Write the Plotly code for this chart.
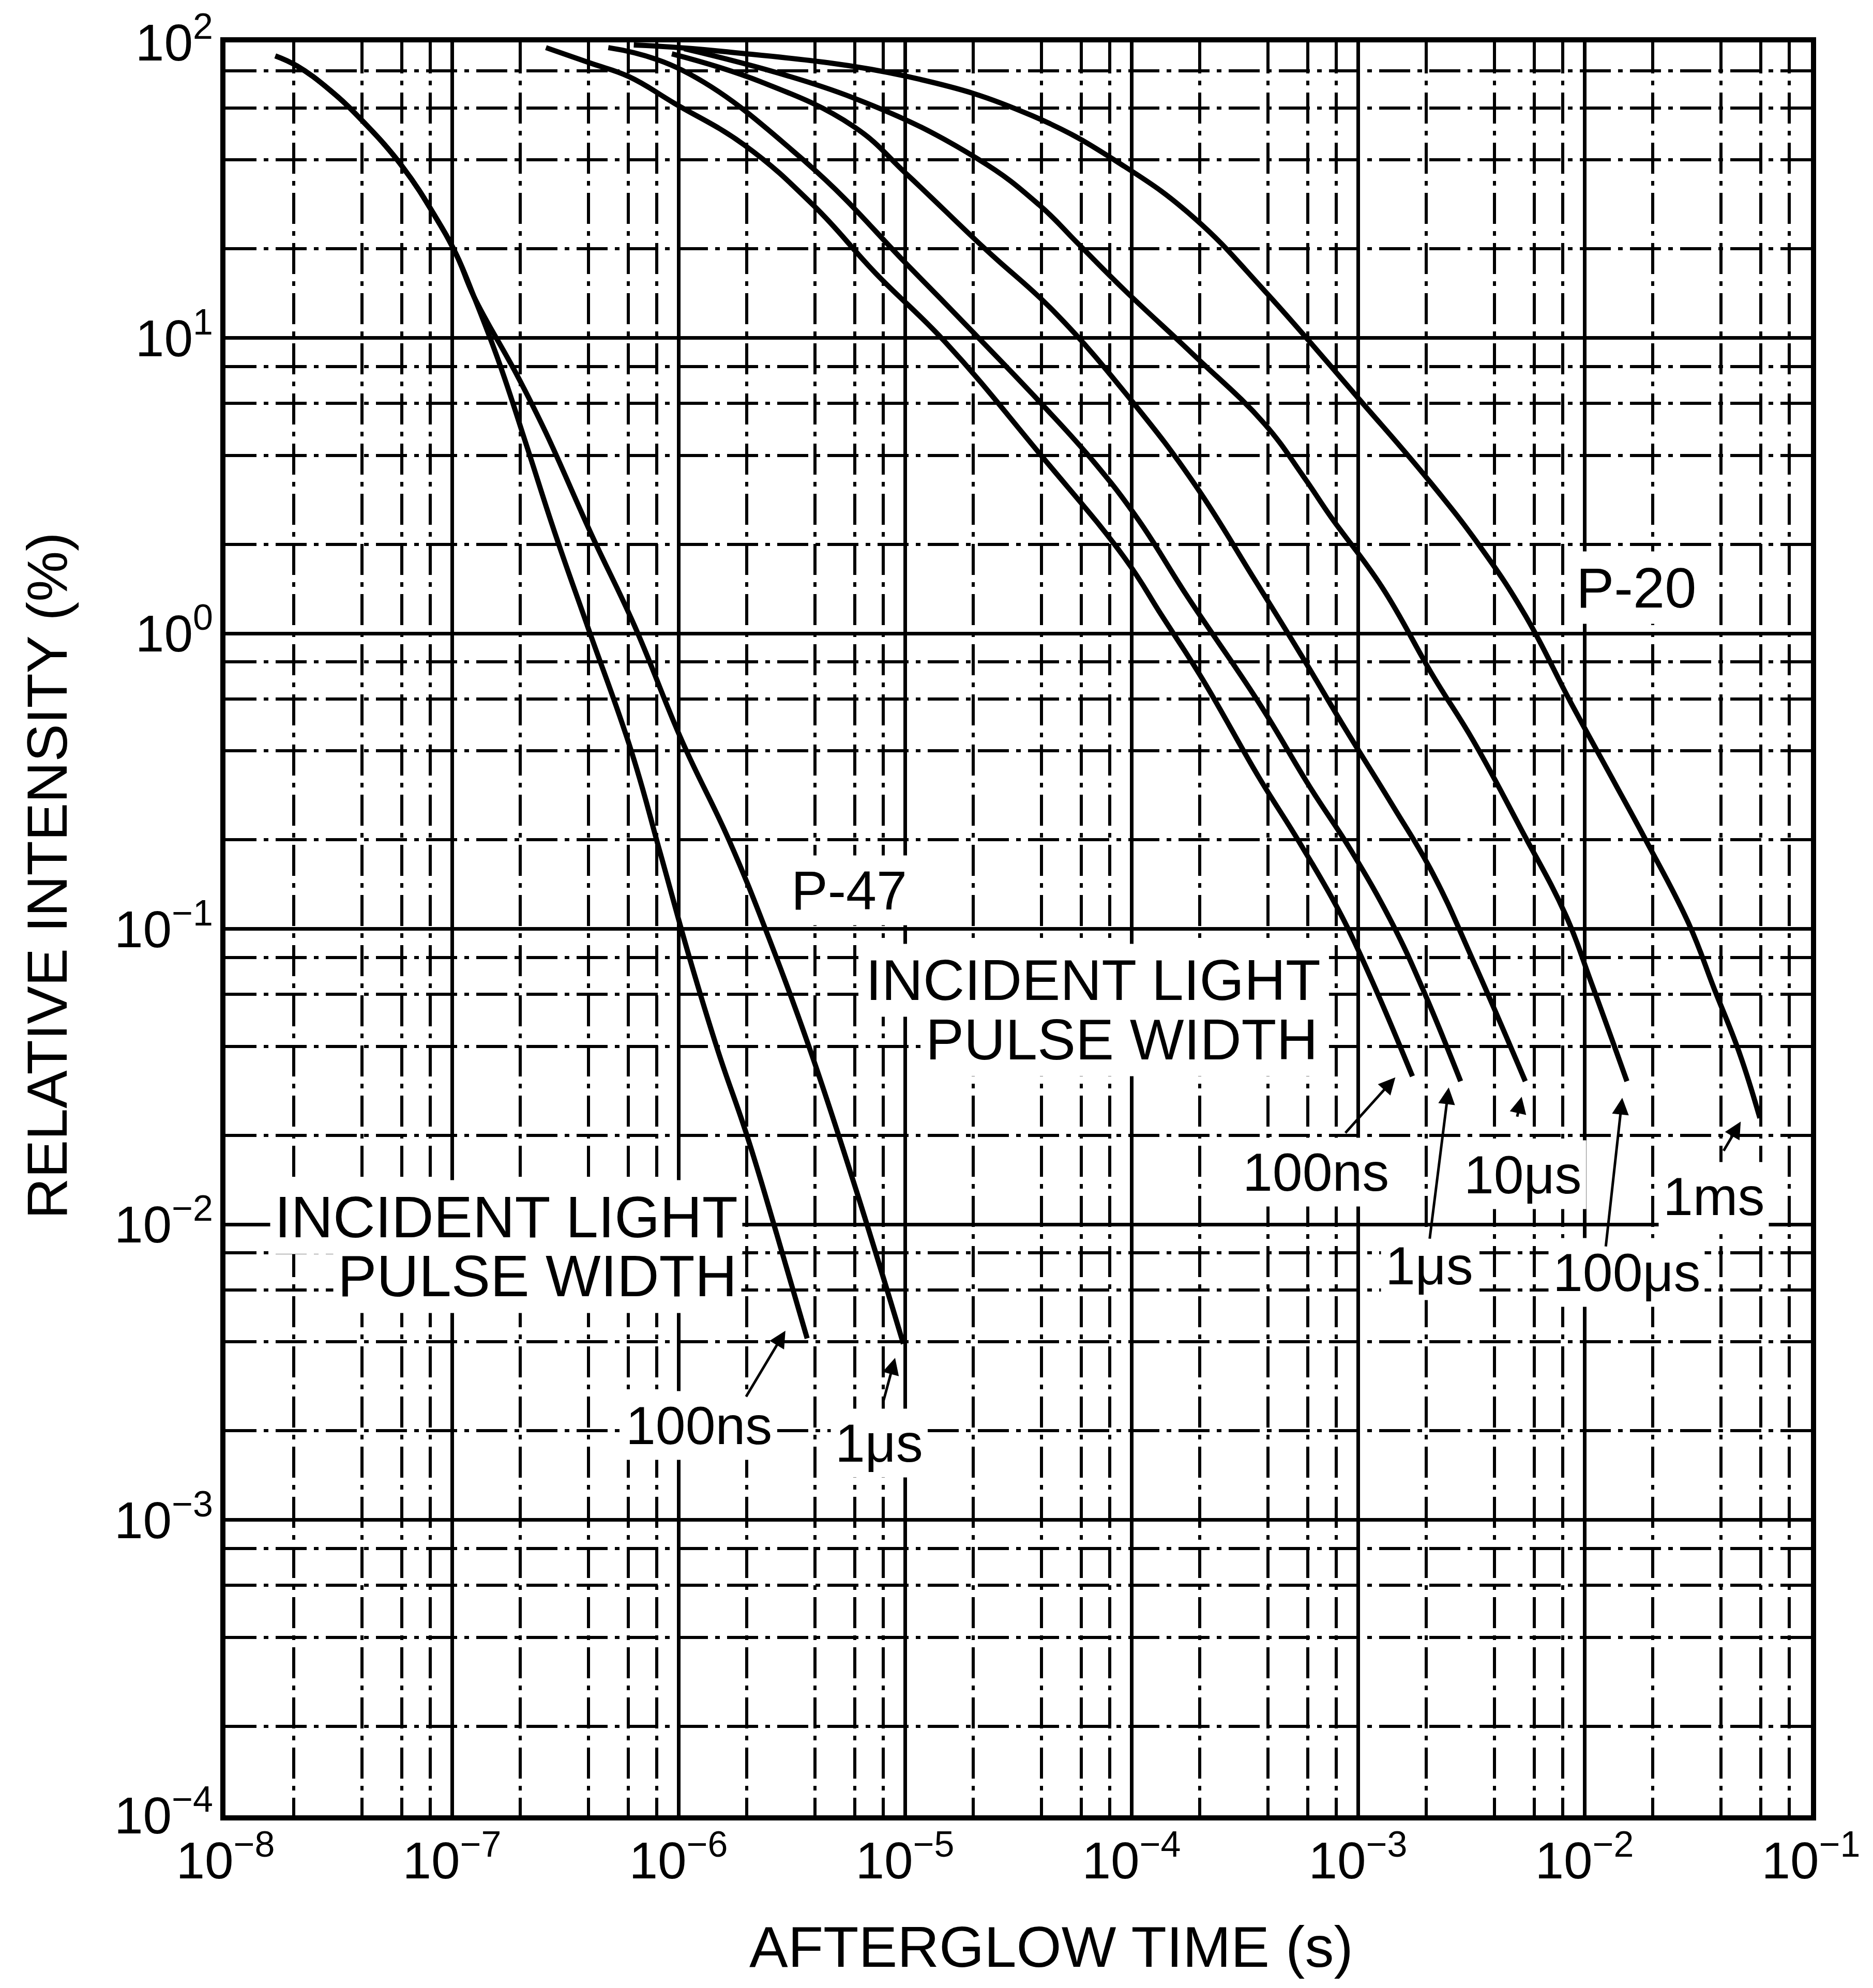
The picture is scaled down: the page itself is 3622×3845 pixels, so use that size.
import math
import plotly.graph_objects as go

# ---------------- data ----------------
# P-47: shared early part of the decay
p47_common_t = [1.66e-8, 2.07e-8, 2.89e-8, 4.05e-8, 6.04e-8, 8.5e-8, 1.05e-7, 1.25e-7]
p47_common_i = [90, 83.2, 69.0, 54.0, 38.0, 25.5, 19.0, 13.8]
# P-47, 100 ns pulse
p47_100ns_t = [1.62e-7, 2.14e-7, 2.84e-7, 3.98e-7, 6.19e-7, 8.32e-7, 1.12e-6, 1.50e-6,
               2.01e-6, 2.72e-6, 3.70e-6]
p47_100ns_i = [8.2, 4.3, 2.2, 1.05, 0.40, 0.18, 0.0796, 0.0383, 0.0199, 0.00923, 0.00411]
# P-47, 1 us pulse
p47_1us_t = [1.95e-7, 2.59e-7, 4.13e-7, 6.4e-7, 1.04e-6, 1.67e-6, 2.51e-6, 3.78e-6,
             6.10e-6, 9.84e-6]
p47_1us_i = [7.41, 4.80, 2.16, 1.06, 0.43, 0.200, 0.0929, 0.0397, 0.0130, 0.00394]

# P-20 curves
p20_100ns_t = [2.6e-7, 4.1e-7, 6.04e-7, 9.6e-7, 1.95e-6, 3.96e-6, 7.45e-6, 1.51e-5, 3.93e-5,
               9.33e-5, 1.36e-4, 2.07e-4, 3.66e-4, 5.52e-4, 8.45e-4, 1.15e-3, 1.74e-3]
p20_100ns_i = [96, 85, 76.6, 62.2, 45.0, 28.0, 16.5, 9.66, 4.06, 1.80, 1.15, 0.695, 0.325,
               0.196, 0.111, 0.0671, 0.0317]

p20_1us_t = [4.9e-7, 1.04e-6, 3.67e-6, 1.03e-5, 1.94e-5, 3.93e-5, 6.85e-5, 1.07e-4, 1.78e-4,
             3.66e-4, 6.12e-4, 9.37e-4, 1.42e-3, 1.93e-3, 2.84e-3]
p20_1us_i = [96, 80.5, 39.2, 17.6, 10.7, 6.08, 3.79, 2.43, 1.32, 0.581, 0.303, 0.183, 0.104,
             0.0627, 0.0305]

p20_10us_t = [9.35e-7, 2.31e-6, 5.92e-6, 1.03e-5, 2.26e-5, 4.59e-5, 1.01e-4, 1.90e-4, 3.48e-4,
              5.52e-4, 8.90e-4, 1.42e-3, 2.14e-3, 3.23e-3, 5.48e-3]
p20_10us_i = [91.5, 73.6, 52.0, 35.5, 20.0, 12.2, 6.08, 3.20, 1.53, 0.863, 0.468, 0.262, 0.154,
              0.0778, 0.0305]

p20_100us_t = [1.06e-6, 5.92e-6, 2.09e-5, 3.93e-5, 5.79e-5, 9.33e-5, 1.90e-4, 3.85e-4, 5.74e-4,
               7.62e-4, 1.28e-3, 2.14e-3, 3.23e-3, 5.21e-3, 8.28e-3, 1.07e-2, 1.54e-2]
p20_100us_i = [95.2, 64.9, 40.4, 28.1, 20.9, 14.5, 8.7, 5.14, 3.4, 2.47, 1.43, 0.72, 0.433,
               0.22, 0.111, 0.066, 0.0305]

p20_1ms_t = [6.35e-7, 1.55e-6, 1.03e-5, 3.64e-5, 9.33e-5, 1.90e-4, 3.85e-4, 1.00e-3, 2.03e-3,
             3.49e-3, 5.48e-3, 8.73e-3, 1.32e-2, 1.89e-2, 2.89e-2, 3.74e-2, 4.84e-2, 5.95e-2]
p20_1ms_i = [98.0, 93.3, 76.6, 56.5, 38.0, 25.4, 14.5, 6.27, 3.33, 1.95, 1.15, 0.581, 0.325,
             0.196, 0.104, 0.0627, 0.0379, 0.0229]

# axis ticks
x_exponents = [-8, -7, -6, -5, -4, -3, -2, -1]
y_exponents = [-4, -3, -2, -1, 0, 1, 2]
grid_mantissas = [2, 4, 6, 8]

FONT = "Liberation Sans, Arial, sans-serif"
BLACK = "#000000"

fig = go.Figure()

curves = [
    (p47_common_t + p47_100ns_t, p47_common_i + p47_100ns_i),
    (p47_common_t + p47_1us_t, p47_common_i + p47_1us_i),
    (p20_100ns_t, p20_100ns_i),
    (p20_1us_t, p20_1us_i),
    (p20_10us_t, p20_10us_i),
    (p20_100us_t, p20_100us_i),
    (p20_1ms_t, p20_1ms_i),
]
for t, i in curves:
    fig.add_trace(go.Scatter(x=t, y=i, mode="lines",
                             line=dict(color=BLACK, width=10, shape="spline", smoothing=1.2),
                             hoverinfo="skip"))

def sup(e):
    s = str(e).replace("-", "\u2212")
    return f"10<sup>{s}</sup>"

x_major = [10.0 ** e for e in x_exponents]
y_major = [10.0 ** e for e in y_exponents]
x_minor = [m * 10.0 ** e for e in x_exponents[:-1] for m in grid_mantissas]
y_minor = [m * 10.0 ** e for e in y_exponents[:-1] for m in grid_mantissas]

axis_common = dict(
    type="log", showline=True, mirror=True, linewidth=10, linecolor=BLACK,
    showgrid=True, gridcolor=BLACK, gridwidth=7, ticks="", zeroline=False,
    tickfont=dict(family=FONT, size=100, color=BLACK),
)
minor_style = dict(showgrid=True, gridcolor=BLACK, gridwidth=6,
                   griddash="60px,14px,9px,14px", ticks="")
fig.update_xaxes(**axis_common, range=[-8, -1], tickmode="array", tickvals=x_major,
                 ticktext=[sup(e) for e in x_exponents], ticklabelstandoff=-8,
                 minor=dict(tickmode="array", tickvals=x_minor, **minor_style))
fig.update_yaxes(**axis_common, range=[-4, 2], tickmode="array", tickvals=y_major,
                 ticktext=[sup(e) for e in y_exponents], ticklabelstandoff=-6,
                 minor=dict(tickmode="array", tickvals=y_minor, **minor_style))

annotations = []

def label(text, lx, ly, size=104, xanchor="center"):
    annotations.append(dict(x=lx, y=ly, xref="x", yref="y", text=text, showarrow=False,
                            xanchor=xanchor, yanchor="middle", bgcolor="white", borderpad=8,
                            font=dict(family=FONT, size=size, color=BLACK)))

label("P-47", -5.247, -0.870, size=106)
label("P-20", -1.772, 0.155, size=110)
label("INCIDENT LIGHT", -5.717, -1.976, size=113, xanchor="right")
label("PULSE WIDTH", -5.721, -2.175, size=113, xanchor="right")
label("INCIDENT LIGHT", -3.144, -1.174, size=111, xanchor="right")
label("PULSE WIDTH", -3.155, -1.376, size=111, xanchor="right")
label("100ns", -5.909, -2.681)
label("1\u03bcs", -5.114, -2.741)
label("100ns", -3.185, -1.824)
label("10\u03bcs", -2.272, -1.832)
label("1ms", -1.429, -1.906)
label("1\u03bcs", -2.685, -2.140)
label("100\u03bcs", -1.813, -2.162)

# pointer arrows toward the end of each curve (offsets in pixels)
pointers = [
    (curves[0], -42, 15, -77, 129),
    (curves[1], -16, -27, -24, 89),
    (curves[2], -33, -2, -98, 109),
    (curves[3], -23, -12, -37, 294),
    (curves[4], -7, -30, -9, 40),
    (curves[5], -9, -32, -32, 289),
    (curves[6], -37, -7, -34, 58),
]
for (t, i), xs, ys, ax, ay in pointers:
    annotations.append(dict(x=math.log10(t[-1]), y=math.log10(i[-1]), xref="x", yref="y",
                            text="", showarrow=True, arrowhead=2, arrowsize=1.3, arrowwidth=5,
                            arrowcolor=BLACK, ax=ax, ay=ay, axref="pixel", ayref="pixel",
                            xshift=xs, yshift=ys))

# axis titles
annotations.append(dict(x=0.521, y=-0.0742, xref="paper", yref="paper",
                        text="AFTERGLOW TIME (s)", showarrow=False, xanchor="center",
                        yanchor="middle", font=dict(family=FONT, size=112, color=BLACK)))
annotations.append(dict(x=-0.1128, y=0.530, xref="paper", yref="paper",
                        text="RELATIVE INTENSITY (%)", showarrow=False, textangle=-90,
                        xanchor="center", yanchor="middle",
                        font=dict(family=FONT, size=110, color=BLACK)))

fig.update_layout(
    width=3622, height=3845,
    margin=dict(l=436, r=120, t=76, b=334),
    paper_bgcolor="white", plot_bgcolor="white",
    showlegend=False, annotations=annotations,
    font=dict(family=FONT, color=BLACK),
)

fig.write_html("out.html")
